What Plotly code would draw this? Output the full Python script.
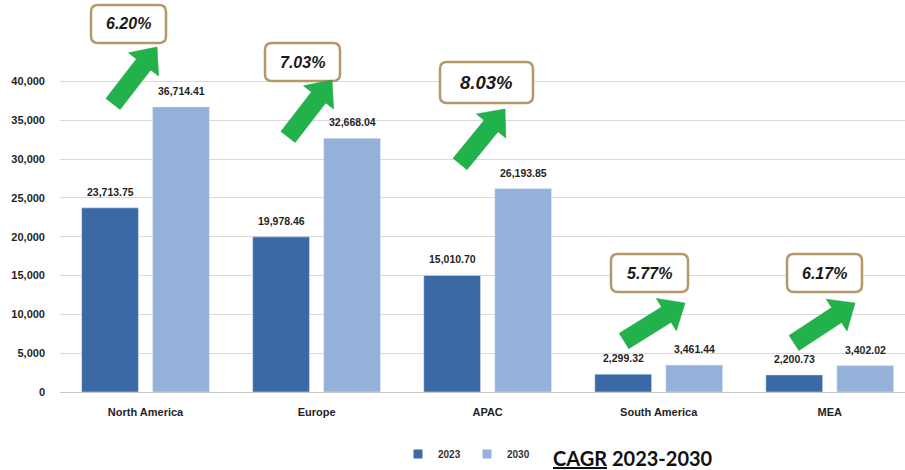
import plotly.graph_objects as go

# ---------------- data ----------------
regions = ["North America", "Europe", "APAC", "South America", "MEA"]
values_2023 = [23713.75, 19978.46, 15010.70, 2299.32, 2200.73]
values_2030 = [36714.41, 32668.04, 26193.85, 3461.44, 3402.02]
cagr_labels = ["6.20%", "7.03%", "8.03%", "5.77%", "6.17%"]
y_ticks = [0, 5000, 10000, 15000, 20000, 25000, 30000, 35000, 40000]
series_names = ["2023", "2030"]

# ---------------- style ----------------
C2023 = "#3b69a5"
C2030 = "#94b2d9"
GREEN = "#21b24b"
BOX_BORDER = "#b5976a"
FONT = "Liberation Sans, Arial, sans-serif"

W, H = 905, 470
ML, MR, MT, MB = 60, 0, 0, 78
PW, PH = W - ML - MR, H - MT - MB
Y_TOP = 50483

def px2x(px):
    return (px - ML) / PW

def py2y(py):
    return (H - MB - py) / PH

# decoration placement (pixels): CAGR boxes and arrows
boxes = [(91, 5, 166, 43, 16), (265, 43, 340, 81, 16), (440, 62, 533, 103, 18.5),
         (611, 254, 688, 292, 16), (787, 254, 862, 292, 16)]
arrows = [((113, 104), (157, 47)), ((288, 137), (332, 80)), ((460, 164), (505, 109)),
          ((624, 341), (685, 303)), ((794, 343), (855, 303))]

fig = go.Figure()
fig.add_trace(go.Bar(x=regions, y=values_2023, name=series_names[0], marker_color=C2023,
                     showlegend=False, legendgroup="a"))
fig.add_trace(go.Bar(x=regions, y=values_2030, name=series_names[1], marker_color=C2030,
                     showlegend=False, legendgroup="b"))
# legend entries with small square swatches
fig.add_trace(go.Scatter(x=[None], y=[None], mode="markers", name=series_names[0],
                         marker=dict(symbol="square", size=9, color=C2023), legendgroup="a"))
fig.add_trace(go.Scatter(x=[None], y=[None], mode="markers", name=series_names[1],
                         marker=dict(symbol="square", size=9, color=C2030), legendgroup="b"))

annotations = []
# value labels above bars
for vals, shift in ((values_2023, -35.5), (values_2030, 35.5)):
    for r, v in zip(regions, vals):
        annotations.append(dict(x=r, y=v, xref="x", yref="y", text=f"{v:,.2f}",
                                showarrow=False, xshift=shift, yshift=8, yanchor="bottom",
                                font=dict(family=FONT, size=10.5, color="#1f1f1f", weight="bold")))

shapes = []
# rounded CAGR boxes
def rounded_path(x0, y0, x1, y1, r):
    def P(px, py):
        return f"{px2x(px):.5f},{py2y(py):.5f}"
    return (f"M {P(x0 + r, y0)} L {P(x1 - r, y0)} Q {P(x1, y0)} {P(x1, y0 + r)} "
            f"L {P(x1, y1 - r)} Q {P(x1, y1)} {P(x1 - r, y1)} L {P(x0 + r, y1)} "
            f"Q {P(x0, y1)} {P(x0, y1 - r)} L {P(x0, y0 + r)} Q {P(x0, y0)} {P(x0 + r, y0)} Z")

for (x0, y0, x1, y1, fs), lab in zip(boxes, cagr_labels):
    shapes.append(dict(type="path", xref="paper", yref="paper", path=rounded_path(x0, y0, x1, y1, 7),
                       line=dict(color=BOX_BORDER, width=2.5), fillcolor="white", layer="above"))
    annotations.append(dict(x=px2x((x0 + x1) / 2), y=py2y((y0 + y1) / 2), xref="paper", yref="paper",
                            text=f"<b><i>{lab}</i></b>", showarrow=False, xanchor="center", yanchor="middle",
                            font=dict(family=FONT, size=fs, color="#1a1a1a")))

# green block arrows
SW, HW, HL = 18, 38, 22
for (tx, ty), (px, py) in arrows:
    dx, dy = px - tx, py - ty
    L = (dx * dx + dy * dy) ** 0.5
    ux, uy = dx / L, dy / L
    nx, ny = -uy, ux
    bx, by = px - ux * HL, py - uy * HL
    pts = [(tx + nx * SW / 2, ty + ny * SW / 2), (bx + nx * SW / 2, by + ny * SW / 2),
           (bx + nx * HW / 2, by + ny * HW / 2), (px, py),
           (bx - nx * HW / 2, by - ny * HW / 2), (bx - nx * SW / 2, by - ny * SW / 2),
           (tx - nx * SW / 2, ty - ny * SW / 2)]
    path = "M " + " L ".join(f"{px2x(a):.5f},{py2y(b):.5f}" for a, b in pts) + " Z"
    shapes.append(dict(type="path", xref="paper", yref="paper", path=path,
                       line=dict(color="#1a9a40", width=0.5), fillcolor=GREEN, layer="above"))

# CAGR caption
annotations.append(dict(x=px2x(633), y=py2y(458), xref="paper", yref="paper",
                        text="<u>CAGR</u> 2023-2030", showarrow=False, xanchor="center", yanchor="middle",
                        font=dict(family="Lato, Liberation Sans, sans-serif", size=20, color="#111111",
                                  weight="bold")))

fig.update_layout(
    width=W, height=H,
    margin=dict(l=ML, r=MR, t=MT, b=MB, autoexpand=False),
    paper_bgcolor="white", plot_bgcolor="white",
    barmode="group", bargap=0.17, bargroupgap=0.2,
    font=dict(family=FONT, color="#1f1f1f"),
    xaxis=dict(range=[-0.5, 4.44], showgrid=False, showline=False, zeroline=False,
               ticks="", ticklabelstandoff=12, automargin=False,
               tickfont=dict(family=FONT, size=11, color="#1f1f1f", weight="bold")),
    yaxis=dict(range=[0, Y_TOP], tickvals=y_ticks, tickformat=",d", showgrid=True,
               gridcolor="#d9d9d9", gridwidth=1, zeroline=True, zerolinecolor="#c8c8c8",
               zerolinewidth=1, showline=False, ticks="", ticklabelstandoff=14, automargin=False,
               tickfont=dict(family=FONT, size=11, color="#1f1f1f", weight="bold")),
    legend=dict(orientation="h", x=px2x(398), y=py2y(454), xanchor="left", yanchor="middle",
                font=dict(family=FONT, size=10, color="#333333", weight="bold"),
                itemwidth=30, entrywidth=24, entrywidthmode="pixels", bgcolor="rgba(0,0,0,0)"),
    shapes=shapes, annotations=annotations,
)

fig.write_html("out.html")
